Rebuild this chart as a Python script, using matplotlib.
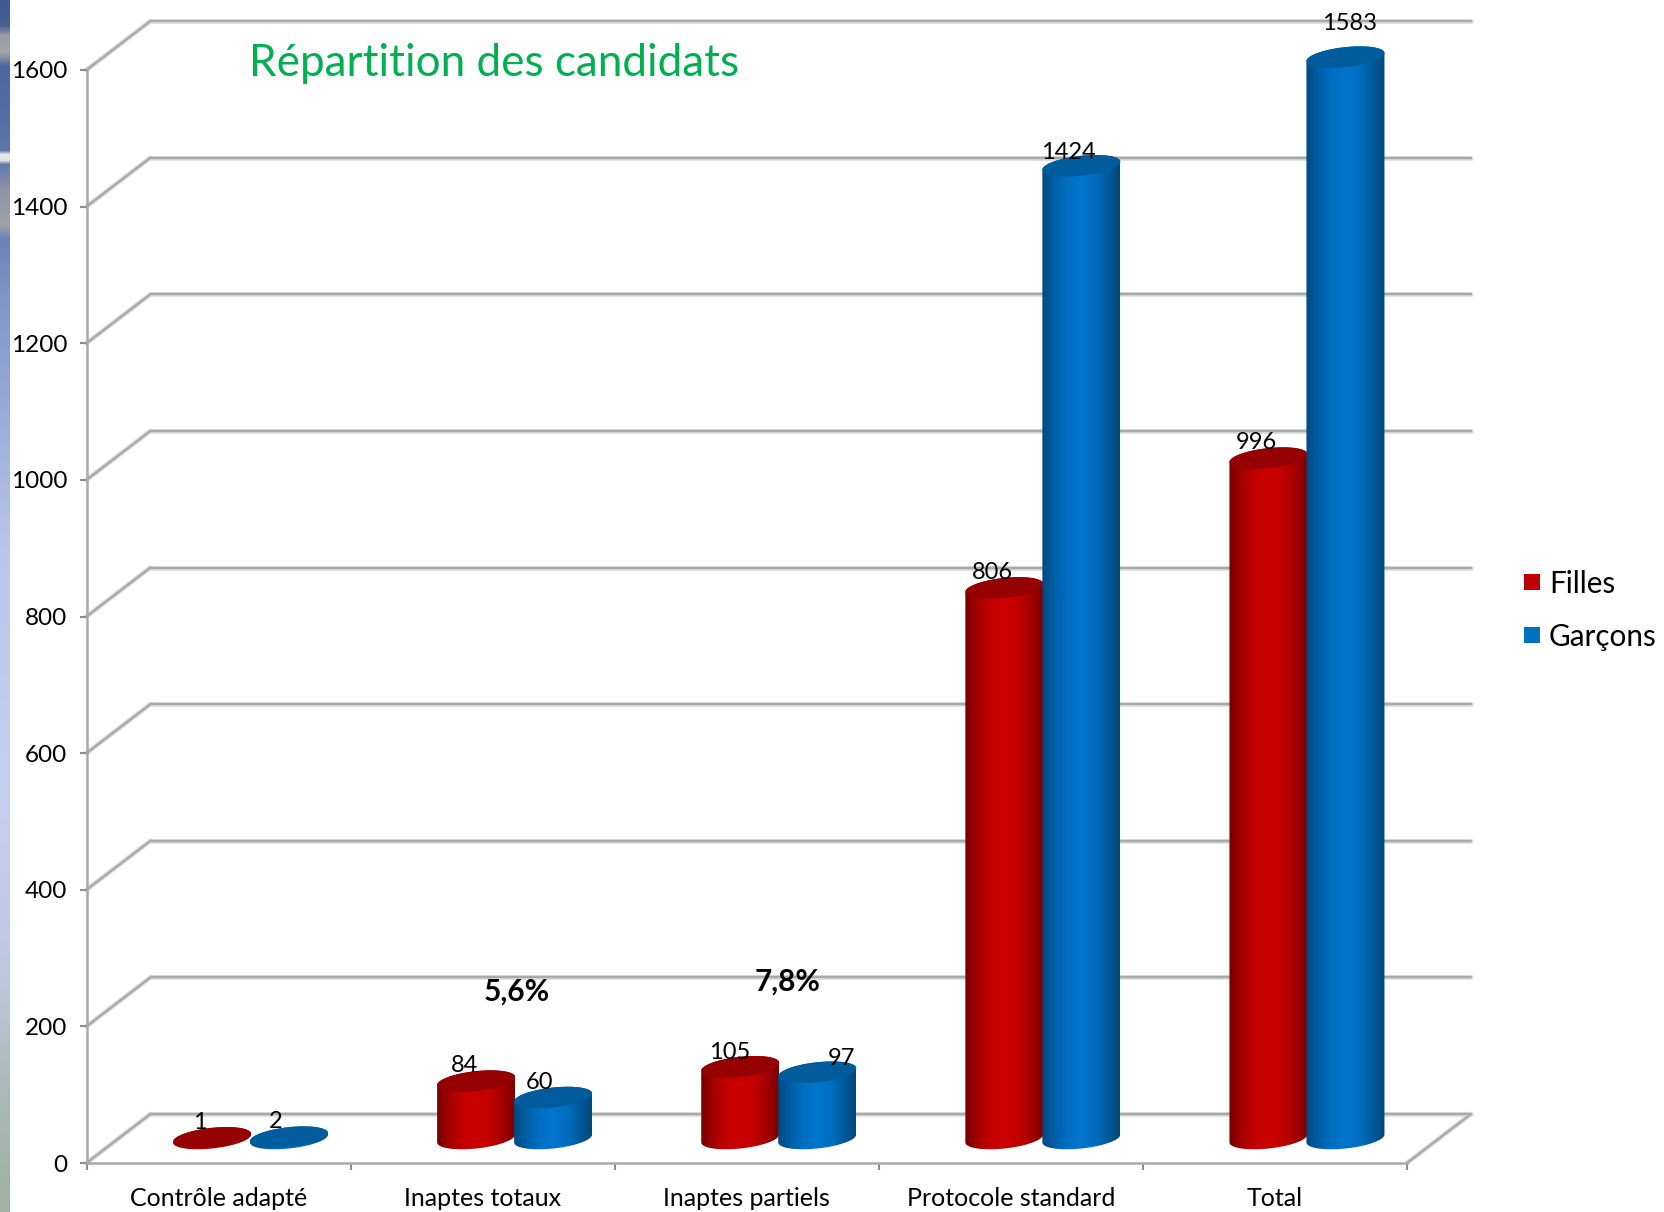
import numpy as np
import matplotlib
matplotlib.use("Agg")
import matplotlib.pyplot as plt
from matplotlib.colors import LinearSegmentedColormap
from matplotlib.patches import Polygon

categories = ["Contrôle adapté", "Inaptes totaux", "Inaptes partiels", "Protocole standard", "Total"]
filles = [1, 84, 105, 806, 996]
garcons = [2, 60, 97, 1424, 1583]
y_ticks = [0, 200, 400, 600, 800, 1000, 1200, 1400, 1600]
percent_labels = ["5,6%", "7,8%"]

W, H = 1664, 1212
X0, X1, Y0, Y1 = 86.5, 1407.0, 1163.0, 70.0  # front plane, pixels
PX_X = (X1 - X0) / 5
PX_Y = (Y0 - Y1) / 1600
DX, DY = 64 / PX_X, 49 / PX_Y  # depth of the 3d box in data units
GRID = "#a9a9a9"
FONT = ["Lato", "DejaVu Sans"]

plt.rcParams["font.family"] = FONT

fig = plt.figure(figsize=(W / 100, H / 100), dpi=100, facecolor="white")
ax = fig.add_axes([X0 / W, 1 - Y0 / H, (X1 - X0) / W, (Y0 - Y1) / H])
ax.set_xlim(0, 5)
ax.set_ylim(0, 1600)
ax.patch.set_visible(False)


def grid_line(xs, ys):
    ax.plot(xs, ys, color="#dcdcdc", lw=3.4, clip_on=False, zorder=1, solid_capstyle="round")
    ax.plot(xs, ys, color=GRID, lw=1.7, clip_on=False, zorder=1.1, solid_capstyle="round")


# back wall, side wall and floor
for v in y_ticks:
    grid_line([DX, 5 + DX], [v + DY, v + DY])
    grid_line([0, DX], [v, v + DY])
grid_line([5, 5 + DX], [0, DY])

for side in ["top", "right"]:
    ax.spines[side].set_visible(False)
for side in ["left", "bottom"]:
    ax.spines[side].set_color(GRID)
    ax.spines[side].set_linewidth(1.8)
ax.set_yticks(y_ticks)
ax.set_xticks(range(6))
ax.set_xticklabels([])
ax.set_xticks(np.arange(5) + 0.5, categories, minor=True)
ax.tick_params(axis="both", which="major", color="#8c8c8c", width=1.5, length=5)
ax.tick_params(axis="x", which="minor", length=0, pad=17, labelsize=18)
ax.tick_params(axis="y", labelsize=17.5, pad=9)

RED = LinearSegmentedColormap.from_list("r", ["#750000", "#a60000", "#c40000", "#cc0000", "#c40000", "#a40000", "#7c0000"])
BLUE = LinearSegmentedColormap.from_list("b", ["#004a80", "#0060a8", "#0070c4", "#0074cc", "#006fc2", "#005c9e", "#00477a"])
TOP = {"r": "#950000", "b": "#005c9c"}

A = 39 / PX_X  # ellipse half width
B = 10 / PX_Y  # half height
S = 4 / PX_Y  # tilt of the ellipse


def ellipse(cx, cy, t):
    return cx + A * np.cos(t), cy + B * np.sin(t) + S * np.cos(t)


def cylinder(cx, value, cmap, top_color, z):
    base = DY / 2
    # outline: lower half of the base, then back over the upper half of the top
    t_low = np.linspace(np.pi, 2 * np.pi, 60)
    t_up = np.linspace(0, np.pi, 60)
    xb, yb = ellipse(cx, base, t_low)
    xt, yt = ellipse(cx, base + value, t_up)
    verts = np.column_stack([np.r_[xb, xt], np.r_[yb, yt]])
    patch = Polygon(verts, closed=True, transform=ax.transData, facecolor="none", edgecolor="none")
    ax.add_patch(patch)
    patch.set_clip_on(False)
    grad = np.linspace(0, 1, 256)[None, :]
    im = ax.imshow(grad, cmap=cmap, aspect="auto", zorder=z, interpolation="bilinear",
                   extent=[cx - A, cx + A, base - 2 * B, base + value + 2 * B])
    im.set_clip_box(fig.bbox)
    im.set_clip_path(patch)
    tt = np.linspace(0, 2 * np.pi, 120)
    xe, ye = ellipse(cx, base + value, tt)
    ax.fill(xe, ye, color=top_color, zorder=z + 0.1, clip_on=False, lw=0)


half = 38.5 / PX_X
centers = np.arange(5) + 0.5 + DX / 2
for i in range(5):
    cylinder(centers[i] - half, filles[i], RED, TOP["r"], 3 + i * 0.01)
for i in range(5):
    cylinder(centers[i] + half, garcons[i], BLUE, TOP["b"], 4 + i * 0.01)
ax.set_xlim(0, 5)
ax.set_ylim(0, 1600)

# value labels sit where the source chart left them, nudges in pixels
filles_nudge = [(-12, 15), (-12, 16), (-11, 14), (-12, 15), (-12, 16)]
garcons_nudge = [(-13, 16), (-14, 15), (24, 14), (-13, 13), (4, 34)]
for i in range(5):
    ax.annotate(str(filles[i]), (centers[i] - half, filles[i] + DY / 2), zorder=6,
                xytext=(filles_nudge[i][0] * 0.72, filles_nudge[i][1] * 0.72), textcoords="offset points",
                ha="center", va="center", fontsize=17, annotation_clip=False)
    ax.annotate(str(garcons[i]), (centers[i] + half, garcons[i] + DY / 2), zorder=6,
                xytext=(garcons_nudge[i][0] * 0.72, garcons_nudge[i][1] * 0.72), textcoords="offset points",
                ha="center", va="center", fontsize=17, annotation_clip=False)

fig.text(517 / W, 1 - 992 / H, percent_labels[0], fontsize=21.5, fontweight="bold", ha="center", va="center")
fig.text(788 / W, 1 - 982 / H, percent_labels[1], fontsize=21.5, fontweight="bold", ha="center", va="center")
fig.text(249 / W, 1 - 63 / H, "Répartition des candidats", fontsize=31.7, color="#00b050", ha="left", va="center")

# legend
legend_items = [("Filles", "#c00000", 584), ("Garçons", "#0070c0", 637)]
for name, color, y in legend_items:
    fig.patches.append(plt.Rectangle((1524 / W, 1 - (y + 6) / H), 16 / W, 16 / H, transform=fig.transFigure,
                                     facecolor=color, edgecolor="none", figure=fig))
    fig.text(1549 / W, 1 - y / H, name, fontsize=21.3, ha="left", va="center")

# slide background showing on the left edge
strip = fig.add_axes([0, 0, 10 / W, 1], zorder=-1)
strip_stops = [(0, "#3c5a97"), (25, "#4a5f92"), (35, "#9a9ca6"), (52, "#a2a4aa"), (66, "#4c669f"), (150, "#5c76ab"),
               (154, "#e4e4e4"), (160, "#e4e4e4"), (164, "#5f7ab0"), (190, "#8f94a6"), (225, "#a0a2aa"), (238, "#6a82b8"),
               (300, "#8096c6"), (550, "#b8c6ea"), (800, "#c5d0f0"), (980, "#bcc8de"), (1100, "#a8b9b4"), (1212, "#9fb2a3")]
strip_cmap = LinearSegmentedColormap.from_list("s", [(y / H, c) for y, c in strip_stops], N=H)
strip.imshow(np.linspace(0, 1, H)[:, None], cmap=strip_cmap, aspect="auto", interpolation="nearest")
strip.axis("off")

fig.savefig("out.png", dpi=100)
